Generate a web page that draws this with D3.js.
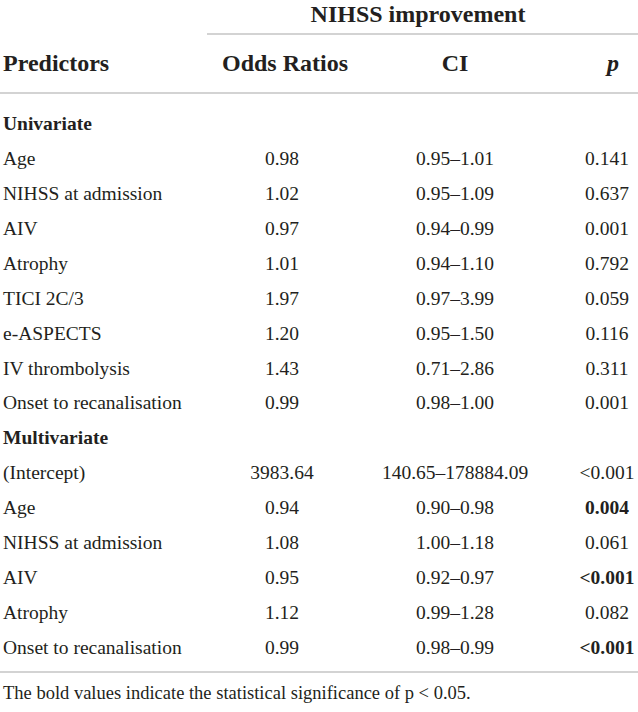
<!DOCTYPE html>
<html>
<head>
<meta charset="utf-8">
<script src="https://cdn.jsdelivr.net/npm/d3@7"></script>
<style>
  body { margin: 0; background: #fff; }
  text { font-family: "Liberation Serif", "Times New Roman", serif; fill: #231f20; }
</style>
</head>
<body>
<div id="tabela"></div>
<script>
// dados da tabela
const predictors = ["Univariate", "Age", "NIHSS at admission", "AIV", "Atrophy", "TICI 2C/3", "e-ASPECTS",
    "IV thrombolysis", "Onset to recanalisation", "Multivariate", "(Intercept)", "Age", "NIHSS at admission",
    "AIV", "Atrophy", "Onset to recanalisation"];
const oddsRatios = ["", "0.98", "1.02", "0.97", "1.01", "1.97", "1.20", "1.43", "0.99", "",
    "3983.64", "0.94", "1.08", "0.95", "1.12", "0.99"];
const ciValues = ["", "0.95–1.01", "0.95–1.09", "0.94–0.99", "0.94–1.10", "0.97–3.99", "0.95–1.50",
    "0.71–2.86", "0.98–1.00", "", "140.65–178884.09", "0.90–0.98", "1.00–1.18", "0.92–0.97", "0.99–1.28", "0.98–0.99"];
const pValues = ["", "0.141", "0.637", "0.001", "0.792", "0.059", "0.116", "0.311", "0.001", "",
    "<0.001", "0.004", "0.061", "<0.001", "0.082", "<0.001"];
const pBold = [false, false, false, false, false, false, false, false, false, false,
    false, true, false, true, false, true];
const sectionRows = ["Univariate", "Multivariate"];
const headers = ["Predictors", "Odds Ratios", "CI", "p"];
const groupTitle = "NIHSS improvement";
const footnote = "The bold values indicate the statistical significance of p < 0.05.";

const width = 638, height = 712;
const lineColor = "#c4c4c4";
const bodySize = "19.5px", headSize = "24px";

const svg = d3.select("#tabela")
    .append("svg")
    .attr("width", width)
    .attr("height", height);

// escala vertical das linhas
const rowIdx = d3.range(predictors.length);
const y = d3.scalePoint()
    .domain(rowIdx)
    .range([130, 654]);

// colunas: centro dos valores e do cabeçalho
const colValue = { odds: 282, ci: 455, p: 607 };
const colHeader = [{ x: 3, anchor: "start" }, { x: 285, anchor: "middle" },
    { x: 455, anchor: "middle" }, { x: 613, anchor: "middle" }];

// titulo do grupo
svg.append("text")
    .attr("x", 418)
    .attr("y", 22)
    .attr("text-anchor", "middle")
    .style("font-weight", "bold")
    .style("font-size", headSize)
    .text(groupTitle);

// linhas horizontais
svg.append("line").attr("x1", 207).attr("x2", width).attr("y1", 34).attr("y2", 34)
    .attr("stroke", lineColor).attr("stroke-width", 1.5);
svg.append("line").attr("x1", 0).attr("x2", width).attr("y1", 93).attr("y2", 93)
    .attr("stroke", lineColor).attr("stroke-width", 1.5);
svg.append("line").attr("x1", 0).attr("x2", width).attr("y1", 672).attr("y2", 672)
    .attr("stroke", lineColor).attr("stroke-width", 1.5);

// cabeçalhos
svg.selectAll(".hdr")
    .data(headers)
    .enter()
    .append("text")
    .attr("class", "hdr")
    .attr("x", (d, i) => colHeader[i].x)
    .attr("y", 71)
    .attr("text-anchor", (d, i) => colHeader[i].anchor)
    .style("font-weight", "bold")
    .style("font-style", (d, i) => i === 3 ? "italic" : "normal")
    .style("font-size", headSize)
    .text(d => d);

// corpo
const rows = svg.selectAll(".row")
    .data(rowIdx)
    .enter()
    .append("g")
    .attr("class", "row")
    .attr("transform", i => `translate(0, ${y(i)})`);

rows.append("text")
    .attr("x", 3)
    .style("font-size", bodySize)
    .style("font-weight", i => sectionRows.includes(predictors[i]) && oddsRatios[i] === "" ? "bold" : "normal")
    .text(i => predictors[i]);

rows.append("text")
    .attr("x", colValue.odds)
    .attr("text-anchor", "middle")
    .style("font-size", bodySize)
    .text(i => oddsRatios[i]);

rows.append("text")
    .attr("x", colValue.ci)
    .attr("text-anchor", "middle")
    .style("font-size", bodySize)
    .text(i => ciValues[i]);

rows.append("text")
    .attr("x", colValue.p)
    .attr("text-anchor", "middle")
    .style("font-size", bodySize)
    .style("font-weight", i => pBold[i] ? "bold" : "normal")
    .text(i => pValues[i]);

// nota de rodapé
svg.append("text")
    .attr("x", 3)
    .attr("y", 699)
    .style("font-size", "18.5px")
    .text(footnote);
</script>
</body>
</html>
